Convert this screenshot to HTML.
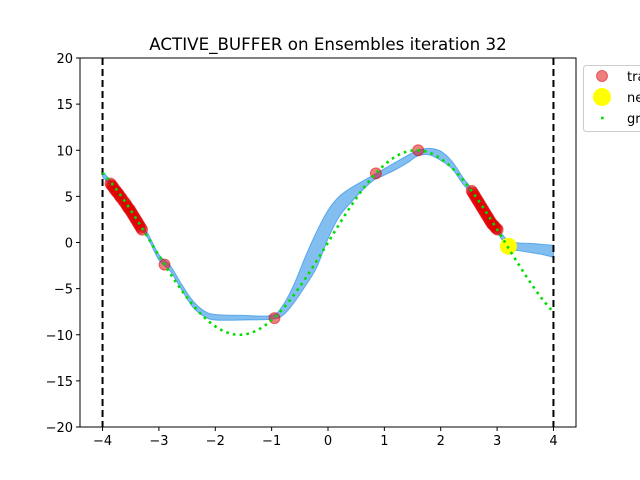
<!DOCTYPE html>
<html><head><meta charset="utf-8"><style>
body{margin:0;background:#fff;}
svg{display:block;font-family:"DejaVu Sans","Liberation Sans",sans-serif;}
</style></head><body>
<svg id="chart" width="640" height="480" viewBox="0 0 640 480">
<rect width="640" height="480" fill="#fff"/>
<text x="328" y="50" text-anchor="middle" font-size="16.7" fill="#000">ACTIVE_BUFFER on Ensembles iteration 32</text>
<g id="plot"></g>
</svg>
<script>
const bandX=[-4,-3.8,-3.6,-3.4,-3.2,-3,-2.8,-2.6,-2.4,-2.2,-2,-1.5,-1,-0.8,-0.6,-0.4,-0.2,0,0.2,0.4,0.6,0.8,1.0,1.2,1.4,1.6,1.8,2.0,2.2,2.4,2.6,2.8,3.0,3.2,3.4,3.6,3.8,4.0];
const bandUpper=[7.7,6.3,4.6,2.7,1.0,-1.3,-2.5,-4.5,-6.3,-7.4,-7.8,-7.9,-7.9,-6.8,-4.5,-1.5,1.2,3.5,5.0,5.9,6.6,7.3,8.0,8.7,9.4,10.0,10.2,9.9,8.8,7.0,5.4,3.4,1.6,0.2,-0.05,-0.1,-0.2,-0.3];
const bandLower=[7.1,5.8,4.1,2.2,0.5,-1.9,-3.1,-5.1,-7.0,-8.0,-8.4,-8.4,-8.3,-7.9,-6.5,-4.7,-2.7,0.4,2.8,4.3,5.6,6.7,7.3,7.9,8.6,9.4,9.5,8.9,8.0,6.3,4.9,2.9,1.1,-0.6,-0.9,-1.1,-1.3,-1.6];
const gtX=[-4,-3.8,-3.6,-3.4,-3.2,-3,-2.8,-2.6,-2.4,-2.2,-2,-1.8,-1.6,-1.4,-1.2,-1,-0.8,-0.6,-0.4,-0.2,0,0.2,0.4,0.6,0.8,1,1.2,1.4,1.6,1.8,2,2.2,2.4,2.6,2.8,3,3.2,3.4,3.6,3.8,4];
const gtY=[7.568,6.119,4.425,2.555,0.584,-1.411,-3.350,-5.155,-6.755,-8.085,-9.093,-9.738,-9.996,-9.854,-9.320,-8.415,-7.174,-5.646,-3.894,-1.987,0,1.987,3.894,5.646,7.174,8.415,9.320,9.854,9.996,9.738,9.093,8.085,6.755,5.155,3.350,1.411,-0.584,-2.555,-4.425,-6.119,-7.568];
const trainX=[-3.86,-3.84,-3.82,-3.8,-3.78,-3.76,-3.74,-3.72,-3.7,-3.68,-3.66,-3.63,-3.6,-3.58,-3.56,-3.54,-3.52,-3.5,-3.48,-3.46,-3.44,-3.42,-3.4,-3.38,-3.36,-3.34,-3.32,-3.3,-2.9,-0.95,0.85,1.6,2.55,2.57,2.59,2.61,2.63,2.65,2.67,2.69,2.71,2.73,2.75,2.77,2.79,2.81,2.83,2.85,2.87,2.89,2.91,2.93,2.95,2.97,2.99,3.01];
const trainY=[6.4,6.2,6.1,5.9,5.7,5.6,5.4,5.3,5.1,4.9,4.8,4.5,4.3,4.1,3.9,3.7,3.6,3.4,3.2,3.0,2.8,2.6,2.4,2.2,2.0,1.8,1.6,1.4,-2.4,-8.2,7.5,10.0,5.6,5.4,5.2,5.0,4.8,4.6,4.4,4.2,4.0,3.8,3.6,3.4,3.2,3.0,2.8,2.6,2.4,2.2,2.0,1.9,1.8,1.6,1.5,1.4];
const newX=[3.2];
const newY=[-0.4];
const xTicks=[-4,-3,-2,-1,0,1,2,3,4];
const yTicks=[-20,-15,-10,-5,0,5,10,15,20];
const legendLabels=["train","new","ground truth"];

const L=80,R=576,T=58,B=427,xmin=-4.4,xmax=4.4,ymin=-20,ymax=20;
const sx=v=>L+(v-xmin)/(xmax-xmin)*(R-L);
const sy=v=>B-(v-ymin)/(ymax-ymin)*(B-T);
const NS="http://www.w3.org/2000/svg";
const g=document.getElementById('plot');
function mk(t,a,p){const e=document.createElementNS(NS,t);for(const k in a)e.setAttribute(k,a[k]);(p||g).appendChild(e);return e;}
function smooth(pts,move){let d=move?`M${pts[0][0]},${pts[0][1]}`:`L${pts[0][0]},${pts[0][1]}`;
 for(let i=0;i<pts.length-1;i++){const p0=pts[i-1]||pts[i],p1=pts[i],p2=pts[i+1],p3=pts[i+2]||p2;
 const c1=[p1[0]+(p2[0]-p0[0])/6,p1[1]+(p2[1]-p0[1])/6],c2=[p2[0]-(p3[0]-p1[0])/6,p2[1]-(p3[1]-p1[1])/6];
 d+=`C${c1[0]},${c1[1]} ${c2[0]},${c2[1]} ${p2[0]},${p2[1]}`;}return d;}

const up=bandX.map((x,i)=>[sx(x),sy(bandUpper[i])]);
const lo=bandX.map((x,i)=>[sx(x),sy(bandLower[i])]).reverse();
const band=mk('path',{d:smooth(up,true)+smooth(lo,false)+'Z',fill:'#1e88e5','fill-opacity':0.55,stroke:'#1e88e5','stroke-opacity':0.6,'stroke-width':1});



[-4,4].forEach(v=>{const l=mk('line',{x1:sx(v),x2:sx(v),y1:T,y2:B,stroke:'#000','stroke-width':2,'stroke-dasharray':'7,4'});

});

trainX.forEach((x,i)=>{const c=mk('circle',{cx:sx(x),cy:sy(trainY[i]),r:5.5,fill:'#e00000','fill-opacity':0.5,stroke:'#e00000','stroke-opacity':0.5,'stroke-width':1});

});
newX.forEach((x,i)=>{const c=mk('circle',{cx:sx(x),cy:sy(newY[i]),r:8.5,fill:'#ffff00'});

});
const gt=mk('path',{d:smooth(gtX.map((x,i)=>[sx(x),sy(gtY[i])]),true),fill:'none',stroke:'#00dd00','stroke-width':2.6,'stroke-dasharray':'2.6,4.2'});



const fr=mk('rect',{x:L,y:T,width:R-L,height:B-T,fill:'none',stroke:'#000','stroke-width':1});


xTicks.forEach(v=>{const x=sx(v);mk('line',{x1:x,x2:x,y1:B,y2:B+4,stroke:'#000'});
const t=mk('text',{x:x,y:B+18,'text-anchor':'middle','font-size':13,fill:'#000'});t.textContent=v<0?'\u2212'+(-v):v;

});
yTicks.forEach(v=>{const y=sy(v);mk('line',{x1:L-4,x2:L,y1:y,y2:y,stroke:'#000'});
const t=mk('text',{x:L-7,y:y+5,'text-anchor':'end','font-size':13,fill:'#000'});t.textContent=v<0?'\u2212'+(-v):v;

});

const lg=mk('rect',{x:583.5,y:65.5,width:80,height:66,rx:3,fill:'#fff',stroke:'#ccc'});


const ly=[76,97,118];
const m1=mk('circle',{cx:602,cy:ly[0],r:5.5,fill:'#e00000','fill-opacity':0.5,stroke:'#e00000','stroke-opacity':0.5});


const m2=mk('circle',{cx:602,cy:ly[1],r:9,fill:'#ffff00'});


const m3=mk('rect',{x:601,y:ly[2]-1.3,width:2.6,height:2.6,fill:'#00dd00'});


legendLabels.forEach((s,i)=>{const t=mk('text',{x:627,y:ly[i]+5,'font-size':13,fill:'#000'});t.textContent=s;

});
</script>
</body></html>
